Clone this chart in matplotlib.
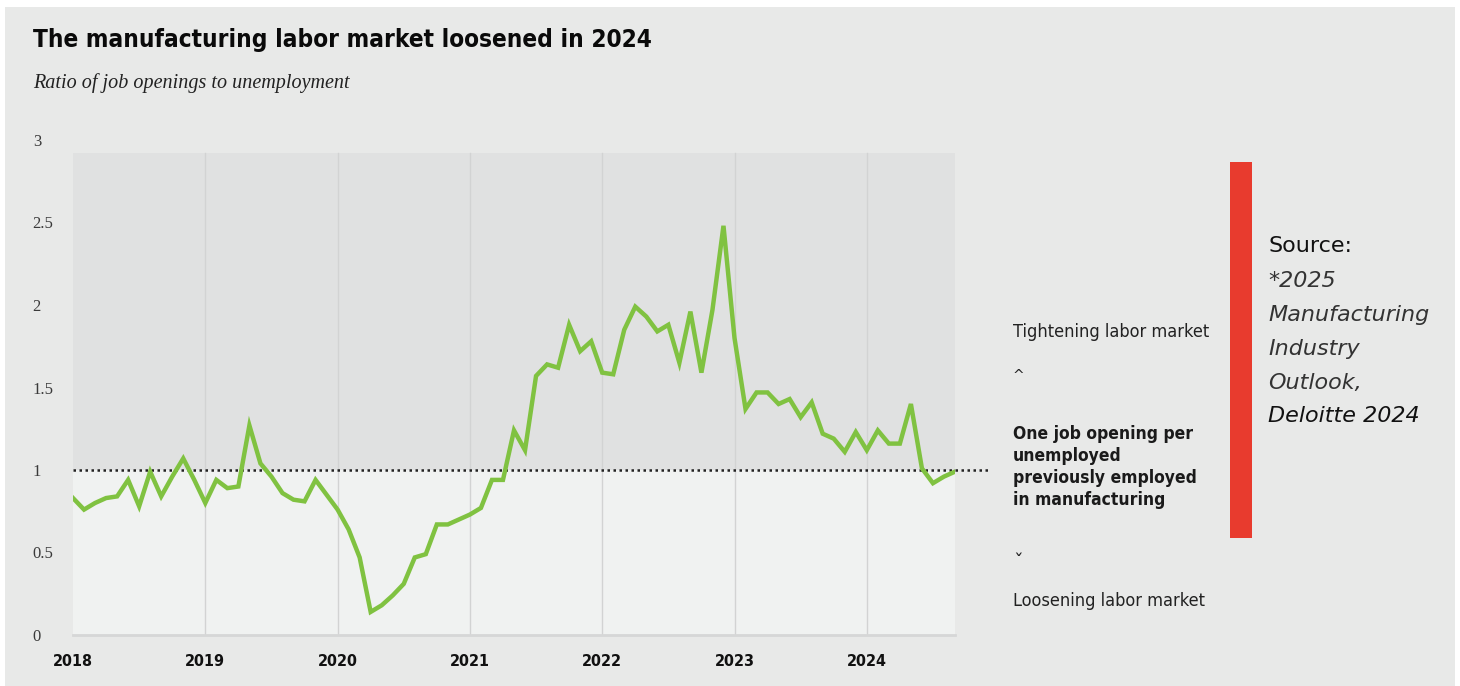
import numpy as np
import matplotlib
matplotlib.use('Agg')
import matplotlib.pyplot as plt
from matplotlib.patches import Rectangle

# monthly ratio, Jan 2018 - Sep 2024
ratio_2018 = [0.83, 0.76, 0.80, 0.83, 0.84, 0.94, 0.78, 0.99, 0.84, 0.96, 1.07, 0.94]
ratio_2019 = [0.80, 0.94, 0.89, 0.90, 1.27, 1.04, 0.96, 0.86, 0.82, 0.81, 0.94, 0.85]
ratio_2020 = [0.76, 0.64, 0.47, 0.14, 0.18, 0.24, 0.31, 0.47, 0.49, 0.67, 0.67, 0.70]
ratio_2021 = [0.73, 0.77, 0.94, 0.94, 1.24, 1.12, 1.57, 1.64, 1.62, 1.88, 1.72, 1.78]
ratio_2022 = [1.59, 1.58, 1.85, 1.99, 1.93, 1.84, 1.88, 1.65, 1.96, 1.59, 1.97, 2.48]
ratio_2023 = [1.80, 1.37, 1.47, 1.47, 1.40, 1.43, 1.32, 1.41, 1.22, 1.19, 1.11, 1.23]
ratio_2024 = [1.12, 1.24, 1.16, 1.16, 1.40, 1.01, 0.92, 0.96, 0.99]

years = [2018, 2019, 2020, 2021, 2022, 2023, 2024]
y_ticks = [0, 0.5, 1, 1.5, 2, 2.5, 3]
y_labels = ['0', '0.5', '1', '1.5', '2', '2.5', '3']

ratio = ratio_2018 + ratio_2019 + ratio_2020 + ratio_2021 + ratio_2022 + ratio_2023 + ratio_2024
dates = 2018 + np.arange(len(ratio)) / 12

W, H = 1460, 686
fig = plt.figure(figsize=(W / 100, H / 100), dpi=100, facecolor='white')

# grey panel behind everything
fig.patches.append(Rectangle((5 / W, 0), 1450 / W, 679 / H, transform=fig.transFigure,
                             facecolor='#e8e9e8', edgecolor='none', zorder=-5))

ax = fig.add_axes([73 / W, 51 / H, 882 / W, 495 / H])
ax.set_zorder(2)
ax.set_facecolor('none')
ax.set_xlim(2018, 2018 + 8 / 12 + 6)
ax.set_ylim(0, 3)

ax.axhspan(1, 2.92, color='#e0e1e1', lw=0, zorder=0)
ax.axhspan(0, 1, color='#f0f2f1', lw=0, zorder=0)
for yr in years[1:]:
    ax.plot([yr, yr], [0, 2.92], color='#d2d3d3', lw=1, zorder=1)

ax.plot(dates, ratio, color='#80c241', lw=3.2, solid_joinstyle='miter', zorder=3)
ax.axhline(1, xmin=0, xmax=1.04, color='#222222', lw=1.8, ls=(0, (1.0, 1.4)),
           clip_on=False, zorder=2)

for s in ['top', 'right', 'left']:
    ax.spines[s].set_visible(False)
ax.spines['bottom'].set_color('#d6d7d7')
ax.spines['bottom'].set_linewidth(2)

ax.set_yticks(y_ticks)
ax.set_yticklabels(y_labels, family='Liberation Serif', fontsize=12, color='#3a3a3a')
for lab in ax.get_yticklabels():
    lab.set_ha('left')
ax.tick_params(axis='y', length=0, pad=29)

cond = dict(family='DejaVu Sans', stretch='condensed')
ax.set_xticks(years)
ax.set_xticklabels([str(y) for y in years], fontsize=11.5, fontweight='bold',
                   color='#111111', **cond)
ax.tick_params(axis='x', length=0, pad=14)

# title and subtitle
fig.text(33 / W, 1 - 40 / H, 'The manufacturing labor market loosened in 2024',
         fontsize=17.5, fontweight='heavy', color='#0a0a0a', va='center', ha='left', **cond)
fig.text(33 / W, 1 - 83 / H, 'Ratio of job openings to unemployment',
         family='Liberation Serif', style='italic', fontsize=14.5, color='#222222',
         va='center', ha='left')

# side notes
fig.text(1013 / W, 1 - 332 / H, 'Tightening labor market', fontsize=13,
         color='#222222', va='center', **cond)
fig.text(1013 / W, 1 - 376 / H, '^', family='DejaVu Sans', fontsize=10, color='#222222',
         va='center')
fig.text(1013 / W, 1 - 467 / H,
         'One job opening per\nunemployed\npreviously employed\nin manufacturing',
         fontsize=12.5, fontweight='bold', color='#1a1a1a',
         va='center', linespacing=1.3, **cond)
fig.text(1013 / W, 1 - 562 / H, 'ˇ', family='DejaVu Sans', fontsize=14, color='#222222',
         va='center')
fig.text(1013 / W, 1 - 601 / H, 'Loosening labor market', fontsize=13,
         color='#222222', va='center', **cond)

# source box
fig.patches.append(Rectangle((1230 / W, 1 - 538 / H), 22 / W, 376 / H, transform=fig.transFigure,
                             facecolor='#e83b2e', edgecolor='none'))
src_x = 1268 / W
fig.text(src_x, 1 - 246 / H, 'Source:', fontsize=16, color='#111111', va='center',
         family='DejaVu Sans')
for i, line in enumerate(['*2025', 'Manufacturing', 'Industry', 'Outlook,']):
    fig.text(src_x, 1 - (281 + i * 34) / H, line, fontsize=16, style='italic',
             color='#333333', va='center', family='DejaVu Sans', fontweight='light')
fig.text(src_x, 1 - 416 / H, 'Deloitte 2024', fontsize=16, style='italic',
         color='#111111', va='center', family='DejaVu Sans')

fig.savefig('out.png', dpi=100, facecolor=fig.get_facecolor())
